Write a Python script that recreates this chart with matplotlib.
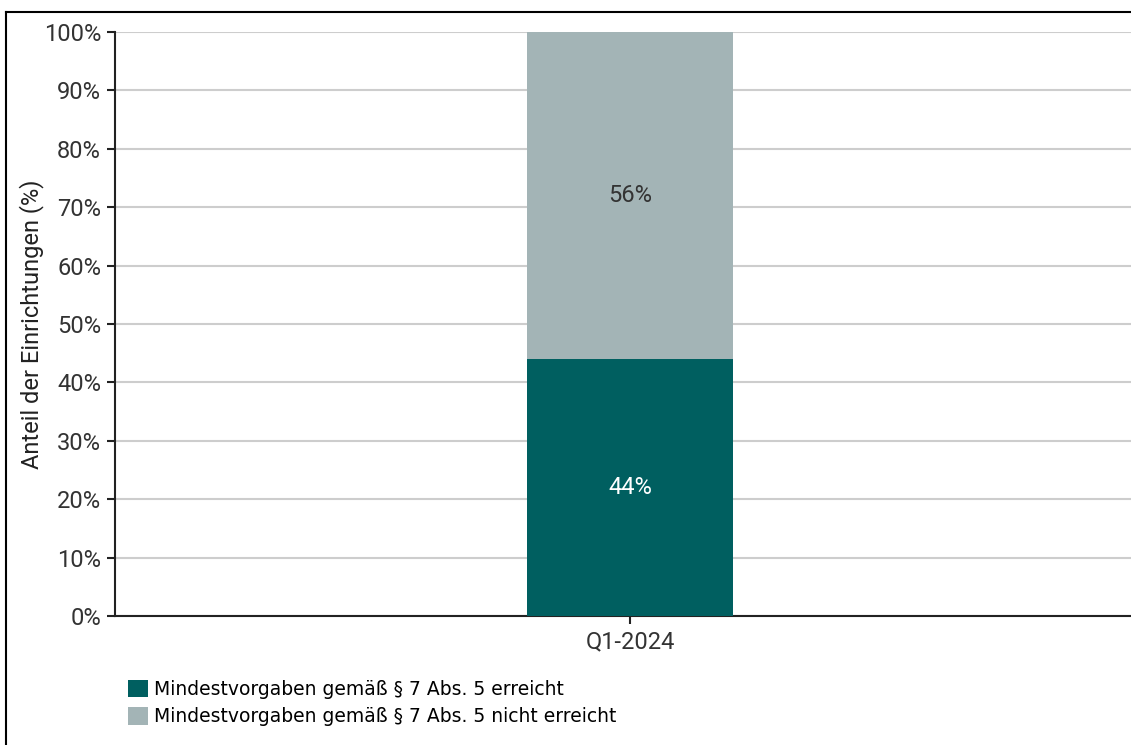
import matplotlib.pyplot as plt
from matplotlib.lines import Line2D
from matplotlib.patches import Patch

plt.rcParams['font.family'] = ['Roboto', 'DejaVu Sans']

categories = ['Q1-2024']
erreicht = [44]
nicht_erreicht = [56]
series_labels = ['Mindestvorgaben gemäß § 7 Abs. 5 erreicht',
                 'Mindestvorgaben gemäß § 7 Abs. 5 nicht erreicht']
colors = ['#005F60', '#A3B4B6']

fig = plt.figure(figsize=(11.31, 7.45), dpi=100)
ax = fig.add_axes([115 / 1131, 1 - 616 / 745, 1030 / 1131, 584 / 745])

x = range(len(categories))
ax.bar(x, erreicht, width=0.2, color=colors[0], zorder=3)
ax.bar(x, nicht_erreicht, width=0.2, bottom=erreicht, color=colors[1], zorder=3)

for i in x:
    ax.text(i, erreicht[i] / 2, f'{erreicht[i]}%', ha='center', va='center',
            color='white', fontsize=17, zorder=4)
    ax.text(i, erreicht[i] + nicht_erreicht[i] / 2, f'{nicht_erreicht[i]}%',
            ha='center', va='center', color='#333333', fontsize=17, zorder=4)

ax.set_xlim(-0.5, 0.5)
ax.set_ylim(0, 100)
ax.set_yticks(range(0, 101, 10))
ax.set_yticklabels([f'{v}%' for v in range(0, 101, 10)], fontsize=17, color='#333333')
ax.set_xticks(list(x))
ax.set_xticklabels(categories, fontsize=17, color='#333333')
ax.tick_params(axis='both', length=6, width=1.5, color='#222222', pad=4)
ax.yaxis.grid(True, color='#CDCDCD', linewidth=1.5, zorder=0)
ax.spines['top'].set_visible(False)
ax.spines['right'].set_visible(False)
for s in ['left', 'bottom']:
    ax.spines[s].set_linewidth(1.5)
    ax.spines[s].set_color('#222222')
ax.set_ylabel('Anteil der Einrichtungen (%)', fontsize=17, color='#222222', labelpad=0)

handles = [Patch(facecolor=c, edgecolor='none') for c in colors]
fig.legend(handles, series_labels, loc='upper left', bbox_to_anchor=(111 / 1131, 1 - 663 / 745),
           frameon=False, handlelength=1.05, handleheight=1.05,
           handletextpad=0.35, labelspacing=0.45, prop={'family': 'DejaVu Sans', 'size': 13.5})

# outer frame (left and top edges)
fig.add_artist(Line2D([6 / 1131, 6 / 1131], [0, 1 - 12 / 745], transform=fig.transFigure,
                      color='black', linewidth=1.5))
fig.add_artist(Line2D([6 / 1131, 1], [1 - 12 / 745, 1 - 12 / 745], transform=fig.transFigure,
                      color='black', linewidth=1.5))

fig.savefig('out.png', dpi=100, facecolor='white')
